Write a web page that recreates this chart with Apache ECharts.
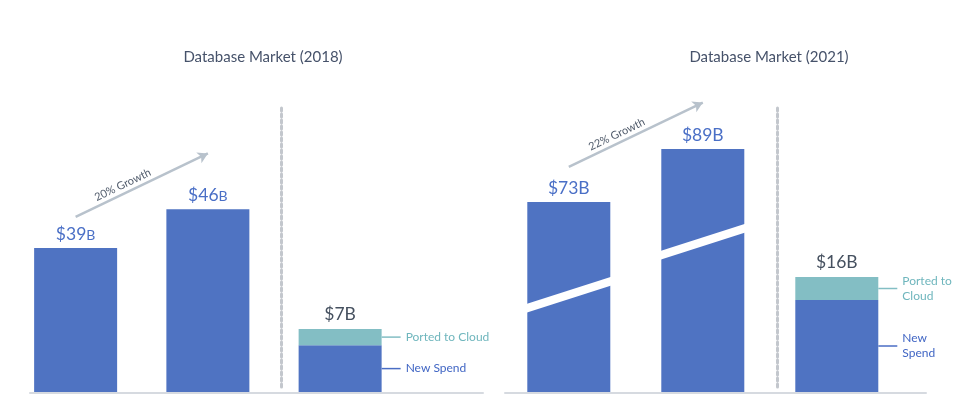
<!DOCTYPE html>
<html><head><meta charset="utf-8">
<script src="https://cdn.jsdelivr.net/npm/echarts@6/dist/echarts.min.js"></script>
<style>html,body{margin:0;padding:0;background:#fff}#c{width:980px;height:400px}</style>
</head><body><div id="c"></div>
<script>
// ---- data ----
const categories = ['Start', 'End', 'Cloud'];
const titles = ['Database Market (2018)', 'Database Market (2021)'];
const market2018 = [39, 46];
const market2021 = [73, 89];
const newSpend = [5.2, 12.8];        // 2018, 2021
const portedToCloud = [1.8, 3.2];    // 2018, 2021
const growthLabels = ['20% Growth', '22% Growth'];
const segmentLabels2018 = ['New Spend', 'Ported to Cloud'];
const segmentLabels2021 = ['New\nSpend', 'Ported to\nCloud'];
const breakValues2021 = [45, 61];    // where the broken bars are cut

// ---- styles ----
const FONT = 'Lato';
const BLUE = '#4f73c2';
const TEAL = '#83bec4';
const LABEL_BLUE = '#4a6fc6';
const DARK = '#45505f';
const TEAL_TXT = '#6fb6bd';
const ARROW = '#b8c2cc';
const BASE = '#d6dae0';
const DOT = '#c3c7cd';
const BAR_W = 83;

const panels = [
  {values: market2018, yMin: 13.15, yMax: 69.2, y2Max: 34.67, smallB: true, labels: segmentLabels2018,
   arrowOff: [5.6, 10], grid: {left: 9.5, width: 396.75}, base: {left: 30, width: 453}, sep: 281, title: 258},
  {values: market2021, yMin: 15.64, yMax: 109.83, y2Max: 43.41, smallB: false, labels: segmentLabels2021,
   arrowOff: [10.6, 14], grid: {left: 501.8, width: 402}, base: {left: 505, width: 421}, sep: 777, title: 764}
];

const grid = [], xAxis = [], yAxis = [], series = [], title = [];
const hiddenAxis = {axisLine: {show: false}, axisTick: {show: false}, axisLabel: {show: false}, splitLine: {show: false}};

panels.forEach((p, k) => {
  title.push({text: titles[k], left: p.title, top: 45, textAlign: 'center',
    textStyle: {fontFamily: FONT, fontSize: 15, fontWeight: 'normal', color: '#46526a'}});
  // main bar grid
  const g = grid.length;
  grid.push({left: p.grid.left, width: p.grid.width, top: 80, height: 312});
  xAxis.push(Object.assign({type: 'category', gridIndex: g, data: categories}, hiddenAxis));
  const y0 = yAxis.length;
  yAxis.push(Object.assign({type: 'value', gridIndex: g, min: p.yMin, max: p.yMax}, hiddenAxis));
  yAxis.push(Object.assign({type: 'value', gridIndex: g, min: 0, max: p.y2Max}, hiddenAxis));

  // baseline grid
  const gb = grid.length;
  grid.push({left: p.base.left, width: p.base.width, top: 80, height: 312.3});
  xAxis.push({type: 'value', gridIndex: gb, min: 0, max: 1, axisLine: {show: true, onZero: false, lineStyle: {color: BASE, width: 2}},
    axisTick: {show: false}, axisLabel: {show: false}, splitLine: {show: false}});
  yAxis.push(Object.assign({type: 'value', gridIndex: gb, min: 0, max: 1}, hiddenAxis));

  // separator grid
  const gs = grid.length;
  grid.push({left: p.sep, width: 10, top: 105, height: 282});
  xAxis.push(Object.assign({type: 'value', gridIndex: gs, min: 0, max: 1}, hiddenAxis));
  yAxis.push({type: 'value', gridIndex: gs, min: 0, max: 1, position: 'left',
    axisLine: {show: true, onZero: false, lineStyle: {color: DOT, width: 3, type: [3, 3]}},
    axisTick: {show: false}, axisLabel: {show: false}, splitLine: {show: false}});

  const v = p.values;
  const fmt = p.smallB
    ? (prm) => '{n|$' + prm.value + '}{b|B}'
    : (prm) => '$' + prm.value + 'B';
  series.push({
    name: 'Market', type: 'bar', xAxisIndex: g, yAxisIndex: y0, data: [v[0], v[1], '-'],
    barWidth: BAR_W, barGap: '-100%', itemStyle: {color: BLUE},
    label: {show: true, position: 'top', distance: 5, formatter: fmt, color: LABEL_BLUE,
      fontFamily: FONT, fontSize: 17.5,
      rich: {n: {fontFamily: FONT, fontSize: 17.5, color: LABEL_BLUE, verticalAlign: 'bottom'},
             b: {fontFamily: FONT, fontSize: 14, color: LABEL_BLUE, verticalAlign: 'bottom', padding: [0, 0, 1, 0]}}},
    markLine: {
      silent: true, symbol: ['none', 'arrow'], symbolSize: [9, 10], animation: false,
      lineStyle: {color: ARROW, width: 2.5, type: 'solid'},
      label: {show: true, position: 'middle', formatter: growthLabels[k], color: '#505b6b',
        fontFamily: FONT, fontSize: 11, padding: [0, 34, 0, 0], distance: 3},
      emphasis: {disabled: true},
      data: [[{coord: [0, v[0] + p.arrowOff[0]]}, {coord: [1, v[1] + p.arrowOff[1]]}]]
    }
  });
  const total = Math.round((newSpend[k] + portedToCloud[k]) * 10) / 10;
  series.push({
    name: 'New Spend', type: 'bar', stack: 'cloud' + k, xAxisIndex: g, yAxisIndex: y0 + 1,
    data: ['-', '-', newSpend[k]], barWidth: BAR_W, barGap: '-100%', itemStyle: {color: BLUE}
  });
  series.push({
    name: 'Ported to Cloud', type: 'bar', stack: 'cloud' + k, xAxisIndex: g, yAxisIndex: y0 + 1,
    data: ['-', '-', portedToCloud[k]], barWidth: BAR_W, barGap: '-100%', itemStyle: {color: TEAL},
    label: {show: true, position: 'top', distance: 6, formatter: '$' + total + 'B', color: DARK,
      fontFamily: FONT, fontSize: 17.5}
  });
  // segment annotations
  const segs = [[2, 0, newSpend[k], 0], [2, newSpend[k], newSpend[k] + portedToCloud[k], 1]];
  series.push({
    type: 'custom', xAxisIndex: g, yAxisIndex: y0 + 1, silent: true, z: 4, data: segs,
    renderItem: (params, api) => {
      const lo = api.value(1), hi = api.value(2), idx = api.value(3);
      const c = api.coord([api.value(0), (lo + hi) / 2]);
      const x0 = c[0] + BAR_W / 2;
      const col = idx === 1 ? TEAL_TXT : '#4166c4';
      const lineCol = idx === 1 ? TEAL : '#4a6dc4';
      return {type: 'group', children: [
        {type: 'line', shape: {x1: x0, y1: c[1], x2: x0 + 19, y2: c[1]}, style: {stroke: lineCol, lineWidth: 1.5}},
        {type: 'text', x: x0 + 24, y: c[1], style: {text: p.labels[idx], fill: col, fontFamily: FONT, fontSize: 12,
          align: 'left', verticalAlign: 'middle', lineHeight: 15}}
      ]};
    }
  });
  if (k === 1) {
    series.push({
      type: 'custom', xAxisIndex: g, yAxisIndex: y0, silent: true, z: 5,
      data: breakValues2021.map((b, i) => [i, b]),
      renderItem: (params, api) => {
        const c = api.coord([api.value(0), api.value(1)]);
        const hw = BAR_W / 2 + 1, rise = hw * 0.32, t = 4.3;
        return {type: 'polygon', shape: {points: [
          [c[0] - hw, c[1] + rise - t], [c[0] + hw, c[1] - rise - t],
          [c[0] + hw, c[1] - rise + t], [c[0] - hw, c[1] + rise + t]]},
          style: {fill: '#ffffff'}};
      }
    });
  }
});

const chart = echarts.init(document.getElementById('c'));
chart.setOption({animation: false, backgroundColor: '#fff', title, grid, xAxis, yAxis, series});
</script></body></html>
